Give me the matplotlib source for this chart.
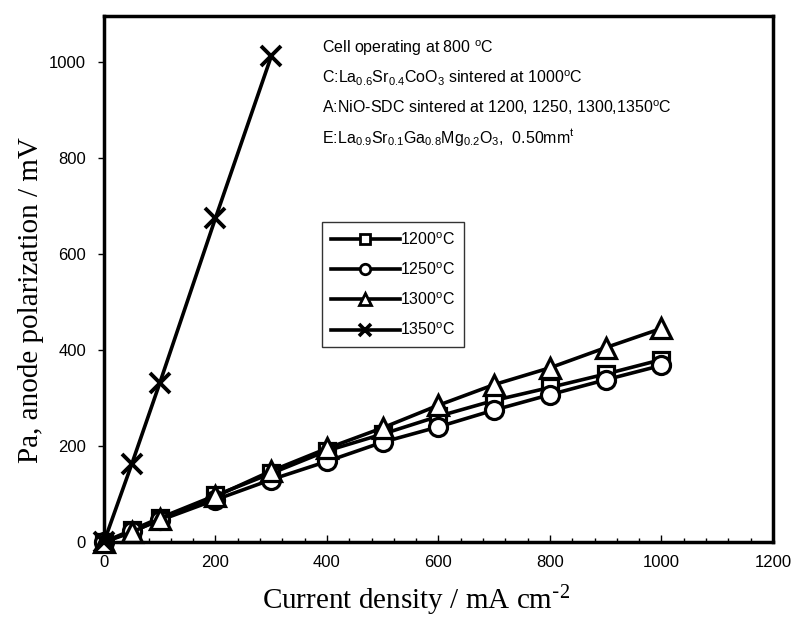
import matplotlib
matplotlib.use("Agg")
import matplotlib.pyplot as plt
from matplotlib.ticker import MultipleLocator
from matplotlib.lines import Line2D

plt.rcParams['font.family'] = ['Liberation Sans', 'DejaVu Sans']
plt.rcParams['mathtext.default'] = 'regular'

current = [0, 50, 100, 200, 300, 400, 500, 600, 700, 800, 900, 1000]
p1200 = [0, 25, 50, 97, 143, 190, 225, 262, 295, 322, 350, 380]
p1250 = [0, 22, 45, 88, 130, 168, 208, 240, 275, 307, 338, 368]
p1300 = [0, 20, 48, 95, 148, 195, 238, 285, 328, 363, 405, 445]
current1350 = [0, 50, 100, 200, 300]
p1350 = [0, 163, 331, 675, 1012]
labels = ['1200$^{o}$C', '1250$^{o}$C', '1300$^{o}$C', '1350$^{o}$C']
notes = ['Cell operating at 800 $^{o}$C',
         'C:La$_{0.6}$Sr$_{0.4}$CoO$_{3}$ sintered at 1000$^{o}$C',
         'A:NiO-SDC sintered at 1200, 1250, 1300,1350$^{o}$C',
         'E:La$_{0.9}$Sr$_{0.1}$Ga$_{0.8}$Mg$_{0.2}$O$_{3}$,  0.50mm$^{t}$']

fig = plt.figure(figsize=(7.95, 6.2), dpi=100)
ax = fig.add_axes([0.1308, 0.1258, 0.8415, 0.8484])

common = dict(color='black', lw=2.6, mfc='white', mec='black', mew=2.3, clip_on=False)
ax.plot(current, p1200, marker='s', ms=12, **common)
ax.plot(current, p1250, marker='o', ms=13, **common)
ax.plot(current, p1300, marker='^', ms=14, **common)
ax.plot(current1350, p1350, marker='x', ms=14, color='black', lw=2.6, mew=2.8, clip_on=False)

ax.set_xlim(0, 1200)
ax.set_ylim(0, 1096)
ax.xaxis.set_major_locator(MultipleLocator(200))
ax.xaxis.set_minor_locator(MultipleLocator(40))
ax.yaxis.set_major_locator(MultipleLocator(200))
ax.tick_params(axis='x', which='both', direction='in', labelsize=12, pad=9)
ax.tick_params(axis='x', which='major', length=5, width=1)
ax.tick_params(axis='x', which='minor', length=3, width=1)
ax.tick_params(axis='y', direction='out', labelsize=12, length=4, width=1, pad=9)
for s in ax.spines.values():
    s.set_linewidth(2.5)

fig.text(416 / 795, 1 - 601 / 620, r'Current density / mA cm$^{\text{-}2}$', family='Liberation Serif',
         fontsize=21, ha='center', va='center')
fig.text(31 / 795, 1 - 300 / 620, 'Pa, anode polarization / mV', family='Liberation Serif',
         fontsize=21, ha='center', va='center', rotation=90)

ys = [1029, 967, 904, 842]
for t, y in zip(notes, ys):
    ax.text(391, y, t, fontsize=11.5, va='center', ha='left')

handles = [
    Line2D([], [], color='black', lw=2.6, marker='s', ms=7, mfc='white', mec='black', mew=2),
    Line2D([], [], color='black', lw=2.6, marker='o', ms=7.5, mfc='white', mec='black', mew=2),
    Line2D([], [], color='black', lw=2.6, marker='^', ms=8, mfc='white', mec='black', mew=2),
    Line2D([], [], color='black', lw=2.6, marker='x', ms=8, mew=2.6),
]
leg = ax.legend(handles, labels, loc='upper left', bbox_to_anchor=(0.326, 0.608), frameon=True,
                fancybox=False, edgecolor='black', fontsize=11.5, handlelength=4.3,
                handletextpad=0.05, labelspacing=0.85, borderpad=0.55, borderaxespad=0)
leg.get_frame().set_linewidth(1.0)

fig.savefig('out.png', dpi=100)
